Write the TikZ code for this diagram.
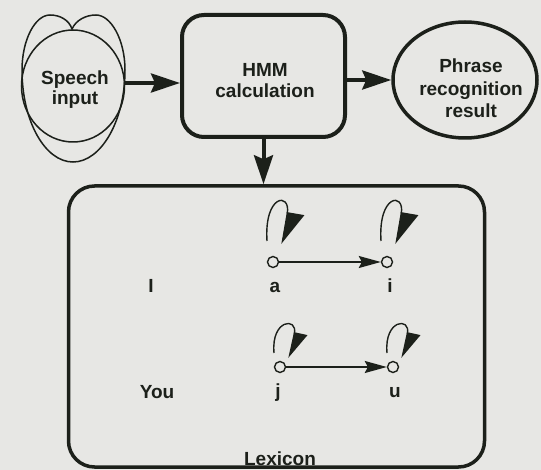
\documentclass[tikz,border=0pt]{standalone}
\usepackage{fontspec}
\setmainfont{Liberation Sans}
\usetikzlibrary{shapes.geometric,arrows.meta,calc}
\definecolor{paper}{RGB}{231,231,228}
\definecolor{ink}{RGB}{28,32,26}

\begin{document}
\begin{tikzpicture}[x=1pt,y=-1pt,
  lbl/.style={text=ink, inner sep=0pt, align=center,
    font=\fontsize{19}{20}\selectfont\bfseries},
  block/.style={draw=ink, line width=4pt, rounded corners=22pt,
    minimum width=163pt, minimum height=122pt, inner sep=0pt},
  flow/.style={draw=ink, line width=4pt,
    -{Stealth[length=29pt,width=19pt,inset=4pt]}},
  stnode/.style={circle, draw=ink, line width=1.4pt, minimum size=11pt, inner sep=0pt},
  trans/.style={draw=ink, line width=1.4pt,
    -{Stealth[length=22pt,width=12pt,inset=3pt]}},
  selfloop/.style={draw=ink, line width=1.4pt},
  lobe/.style={draw=ink, line width=1.5pt},
]
% paper and page size
\fill[paper] (0,0) rectangle (541,470);
\useasboundingbox (0,0) rectangle (541,470);

% speech input: a circle inside a two-lobed outline
\node[ellipse, draw=ink, line width=1.5pt, minimum width=103pt,
      minimum height=112pt, inner sep=0pt] (speech) at (73,86) {};
\draw[lobe] (72,29) .. controls (69,20) and (60,15) .. (50,15)
  .. controls (35,15) and (22,40) .. (22,70)
  .. controls (22,121) and (45,162) .. (73,162)
  .. controls (101,162) and (125,121) .. (125,70)
  .. controls (125,40) and (111,15) .. (96,15)
  .. controls (86,15) and (76,20) .. (72,29) -- cycle;
\node[lbl, font=\fontsize{19}{20}\selectfont\bfseries] (speechtxt) at (75,90) {Speech\\input};

% HMM calculation
\node[block] (hmm) at (263.5,76) {};
\node[lbl, font=\fontsize{19}{21}\selectfont\bfseries] (hmmtxt) at (265,80.5) {HMM\\calculation};

% recognition result
\node[ellipse, draw=ink, line width=3.5pt, minimum width=144pt,
      minimum height=116pt, inner sep=0pt] (phrase) at (465,80) {};
\node[lbl, font=\fontsize{19}{22.5}\selectfont\bfseries] (phrasetxt) at (471,88.5) {Phrase\\recognition\\result};

% lexicon
\node[draw=ink, line width=3.5pt, rounded corners=26pt, minimum width=416pt,
      minimum height=281pt, inner sep=0pt] (lex) at (276.5,326.5) {};
\node[lbl, anchor=base] (lextxt) at (280,465) {Lexicon};

% word models
\node[stnode] (a) at (273,262) {};
\node[stnode] (i) at (387,262) {};
\node[stnode] (j) at (280,367) {};
\node[stnode] (u) at (393,367) {};

\node[lbl, anchor=base] (wI) at (151,293) {I};
\node[lbl, anchor=base] (wyou) at (157,398) {You};
\node[lbl, anchor=base] (la) at (275,293) {a};
\node[lbl, anchor=base] (li) at (390,293) {i};
\node[lbl, anchor=base] (lj) at (278,397) {j};
\node[lbl, anchor=base] (lu) at (395,397) {u};

% main flow
\draw[flow] ([yshift=3pt]speech.east) -- ([yshift=3pt]speech.east -| hmm.west);
\draw[flow] (hmm.east |- phrase.west) -- (phrase.west);
\draw[flow] (hmm.south) -- (hmm.south |- lex.north);

% transitions
\draw[trans] (a) -- (i);
\draw[trans] (j) -- (u);

% self-loops
\foreach \s in {a,i}
  \draw[selfloop, -{Triangle[harpoon,length=31pt,width=34pt]}]
    ([shift={(-6,-21)}]\s.center) .. controls ([shift={(-9,-68)}]\s.center)
    and ([shift={(18,-70)}]\s.center) .. ([shift={(9,-18)}]\s.center);
\foreach \s in {j,u}
  \draw[selfloop, -{Triangle[harpoon,length=25pt,width=26pt]}]
    ([shift={(-6,-14)}]\s.center) .. controls ([shift={(-9,-48)}]\s.center)
    and ([shift={(18,-50)}]\s.center) .. ([shift={(9,-9)}]\s.center);
\end{tikzpicture}
\end{document}
